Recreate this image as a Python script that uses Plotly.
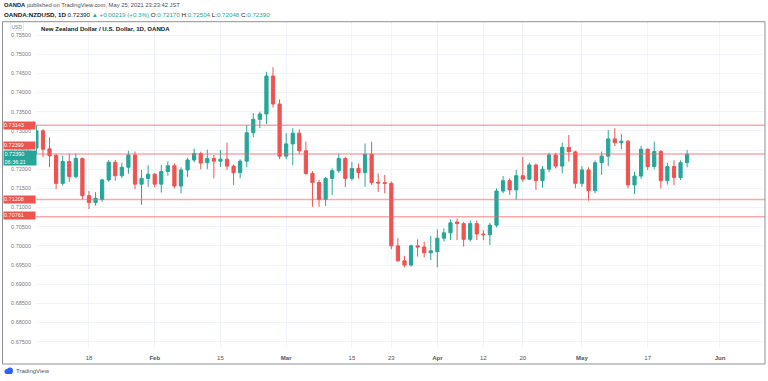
import plotly.graph_objects as go
import pandas as pd

# ---------------- data ----------------
dates = [d.strftime("%Y-%m-%d") for d in pd.bdate_range("2021-01-06", "2021-05-25")]

opens = [0.7255, 0.7300, 0.7253, 0.7236, 0.7163, 0.7220, 0.7181, 0.7228, 0.7131, 0.7113,
         0.7121, 0.7172, 0.7218, 0.7183, 0.7205, 0.7237, 0.7161, 0.7176, 0.7187, 0.7161,
         0.7194, 0.7209, 0.7156, 0.7198, 0.7224, 0.7241, 0.7217, 0.7228, 0.7221, 0.7226,
         0.7208, 0.7191, 0.7221, 0.7295, 0.7330, 0.7344, 0.7443, 0.7370, 0.7234, 0.7266,
         0.7294, 0.7248, 0.7189, 0.7165, 0.7121, 0.7176, 0.7196, 0.7228, 0.7176, 0.7202,
         0.7191, 0.7239, 0.7166, 0.7165, 0.7163, 0.7000, 0.6961, 0.6950, 0.7000, 0.6997,
         0.6982, 0.6985, 0.7020, 0.7034, 0.7062, 0.7058, 0.7017, 0.7058, 0.7031, 0.7029,
         0.7054, 0.7143, 0.7170, 0.7146, 0.7183, 0.7174, 0.7211, 0.7170, 0.7200, 0.7237,
         0.7208, 0.7257, 0.7245, 0.7163, 0.7198, 0.7144, 0.7217, 0.7234, 0.7279, 0.7269,
         0.7273, 0.7159, 0.7182, 0.7252, 0.7207, 0.7246, 0.7170, 0.7207, 0.7178, 0.72170]
highs = [0.73143, 0.7304, 0.7283, 0.7240, 0.7235, 0.7240, 0.7241, 0.7230, 0.7143, 0.7140,
         0.7175, 0.7224, 0.7224, 0.7217, 0.7248, 0.7246, 0.7198, 0.7210, 0.7190, 0.7211,
         0.7220, 0.7215, 0.7205, 0.7230, 0.7254, 0.7245, 0.7251, 0.7237, 0.7250, 0.7269,
         0.7212, 0.7226, 0.7315, 0.7346, 0.7350, 0.7454, 0.7466, 0.7382, 0.7294, 0.7307,
         0.7304, 0.7272, 0.7195, 0.7172, 0.7180, 0.7202, 0.7241, 0.7232, 0.7219, 0.7215,
         0.7267, 0.7272, 0.7189, 0.7185, 0.7168, 0.7020, 0.6974, 0.7003, 0.7017, 0.7011,
         0.7026, 0.7043, 0.7046, 0.7069, 0.7071, 0.7062, 0.7066, 0.7066, 0.7041, 0.7060,
         0.7150, 0.7182, 0.7176, 0.7198, 0.7232, 0.7217, 0.7215, 0.7208, 0.7243, 0.7243,
         0.7269, 0.7289, 0.7248, 0.7208, 0.7205, 0.7223, 0.7246, 0.7302, 0.7307, 0.7291,
         0.7276, 0.7193, 0.7261, 0.7254, 0.7272, 0.7250, 0.7217, 0.7223, 0.7223, 0.72504]
lows = [0.7238, 0.7232, 0.7205, 0.7148, 0.7157, 0.7167, 0.7176, 0.71208, 0.7096, 0.7105,
        0.7115, 0.7167, 0.7170, 0.7177, 0.7188, 0.7148, 0.7107, 0.7154, 0.7153, 0.7139,
        0.7183, 0.7150, 0.7137, 0.7180, 0.7218, 0.7200, 0.7200, 0.7176, 0.7206, 0.7198,
        0.7159, 0.7176, 0.7205, 0.7283, 0.7307, 0.7318, 0.7361, 0.7226, 0.7226, 0.7211,
        0.7240, 0.7185, 0.7102, 0.7102, 0.7104, 0.7133, 0.7190, 0.7153, 0.7170, 0.7176,
        0.7154, 0.7159, 0.7141, 0.7137, 0.6991, 0.6959, 0.6944, 0.6946, 0.6972, 0.6970,
        0.6963, 0.6944, 0.7011, 0.7015, 0.7015, 0.6998, 0.7011, 0.7015, 0.7015, 0.7002,
        0.7048, 0.7137, 0.7133, 0.7121, 0.7167, 0.7172, 0.7146, 0.7152, 0.7192, 0.7202,
        0.7189, 0.7220, 0.7150, 0.7154, 0.7118, 0.7137, 0.7185, 0.7208, 0.7260, 0.7252,
        0.7150, 0.7135, 0.7175, 0.7198, 0.7200, 0.7150, 0.7160, 0.7159, 0.7172, 0.72048]
closes = [0.7300, 0.7252, 0.7235, 0.7163, 0.7220, 0.7181, 0.7228, 0.7131, 0.7113, 0.7124,
          0.7172, 0.7218, 0.7183, 0.7205, 0.7237, 0.7161, 0.7176, 0.7187, 0.7161, 0.7194,
          0.7209, 0.7156, 0.7198, 0.7224, 0.7241, 0.7216, 0.7228, 0.7221, 0.7226, 0.7208,
          0.7191, 0.7221, 0.7295, 0.7330, 0.7344, 0.7443, 0.7370, 0.7234, 0.7266, 0.7294,
          0.7248, 0.7189, 0.7165, 0.7121, 0.7176, 0.7196, 0.7228, 0.7176, 0.7202, 0.7191,
          0.7239, 0.7165, 0.7164, 0.7163, 0.7000, 0.6961, 0.6950, 0.7000, 0.6997, 0.6982,
          0.6987, 0.7020, 0.7034, 0.7060, 0.7058, 0.7017, 0.7058, 0.7031, 0.7029, 0.7054,
          0.7143, 0.7170, 0.7146, 0.7183, 0.7174, 0.7211, 0.7170, 0.7200, 0.7237, 0.7208,
          0.7257, 0.7246, 0.7163, 0.7198, 0.7144, 0.7217, 0.7234, 0.7279, 0.7269, 0.7273,
          0.7159, 0.7182, 0.7252, 0.7207, 0.7246, 0.7170, 0.7207, 0.7178, 0.7217, 0.72390]

tick_dates = ["2021-01-18", "2021-02-01", "2021-02-15", "2021-03-01", "2021-03-15", "2021-03-23",
              "2021-04-01", "2021-04-12", "2021-04-20", "2021-05-03", "2021-05-17", "2021-06-01"]
tick_labels = ["18", "<b>Feb</b>", "15", "<b>Mar</b>", "15", "23", "<b>Apr</b>", "12", "20",
               "<b>May</b>", "17", "<b>Jun</b>"]
price_ticks = [0.675, 0.680, 0.685, 0.690, 0.695, 0.700, 0.705, 0.710, 0.715, 0.720, 0.725,
               0.730, 0.735, 0.740, 0.745, 0.750, 0.755]
levels = [0.73143, 0.72399, 0.71208, 0.70761]
last_price = 0.72390
countdown = "06:36:21"

# ---------------- geometry helpers ----------------
W, H = 768, 381
PL, PR, PT, PB = 36, 765, 22, 348


def fx(px):
    return (px - PL) / (PR - PL)


def fy(py):
    return (PB - py) / (PB - PT)


GREEN = "#26a69a"
RED = "#ef5350"
FONT = "Liberation Sans, Arial, sans-serif"

# x-axis in category space (one slot per trading day)
all_cats = dates + [d.strftime("%Y-%m-%d") for d in pd.bdate_range("2021-05-26", "2021-06-15")]

fig = go.Figure()
fig.add_trace(go.Candlestick(
    x=dates, open=opens, high=highs, low=lows, close=closes,
    increasing=dict(line=dict(color=GREEN, width=1), fillcolor=GREEN),
    decreasing=dict(line=dict(color=RED, width=1), fillcolor=RED),
    whiskerwidth=0, showlegend=False, hoverinfo="skip",
))

shapes = []
for lv in levels:
    shapes.append(dict(type="line", xref="paper", yref="y", x0=0, x1=1, y0=lv, y1=lv,
                       line=dict(color="rgba(242,100,100,0.55)", width=1.5), layer="above"))
# frame
shapes.append(dict(type="rect", xref="paper", yref="paper", x0=fx(2.5), x1=fx(765),
                   y0=fy(364), y1=fy(21.7), line=dict(color="#8f9196", width=1), layer="above"))
# TradingView logo (small cloud)
shapes.append(dict(type="circle", xref="paper", yref="paper", x0=fx(4.5), x1=fx(9.5),
                   y0=fy(374), y1=fy(369), fillcolor="#2962ff", line=dict(width=0)))
shapes.append(dict(type="circle", xref="paper", yref="paper", x0=fx(7), x1=fx(13),
                   y0=fy(374), y1=fy(367.5), fillcolor="#2962ff", line=dict(width=0)))
shapes.append(dict(type="rect", xref="paper", yref="paper", x0=fx(6.5), x1=fx(12),
                   y0=fy(374), y1=fy(371.5), fillcolor="#2962ff", line=dict(width=0)))

ann = []
ann.append(dict(xref="paper", yref="paper", x=fx(2), y=fy(5), xanchor="left", yanchor="middle",
                showarrow=False, font=dict(size=5.8, color="#4a4d57", family=FONT),
                text="<b style='color:#131722'>OANDA</b> published on TradingView.com, May 25, 2021 23:23:42 JST"))
ann.append(dict(xref="paper", yref="paper", x=fx(2), y=fy(14.5), xanchor="left", yanchor="middle",
                showarrow=False, font=dict(size=6.2, color="#131722", family=FONT),
                text=("<b>OANDA:NZDUSD, 1D</b> 0.72390 <span style='color:%s'>▲</span> "
                      "<span style='color:%s'>+0.00219 (+0.3%%)</span> "
                      "O:<span style='color:%s'>0.72170</span> H:<span style='color:%s'>0.72504</span> "
                      "L:<span style='color:%s'>0.72048</span> C:<span style='color:%s'>0.72390</span>")
                % (GREEN, GREEN, GREEN, GREEN, GREEN, GREEN)))
ann.append(dict(xref="paper", yref="paper", x=fx(39), y=fy(28.5), xanchor="left", yanchor="middle",
                showarrow=False, font=dict(size=6.1, color="#131722", family=FONT),
                text="<b>New Zealand Dollar / U.S. Dollar, 1D, OANDA</b>"))
ann.append(dict(xref="paper", yref="paper", x=fx(17), y=fy(26.5), xanchor="center", yanchor="middle",
                showarrow=False, font=dict(size=5, color="#787b86", family=FONT), text="USD",
                bordercolor="#d1d4dc", borderwidth=0.5, borderpad=1))
ann.append(dict(xref="paper", yref="paper", x=fx(14), y=fy(371), xanchor="left", yanchor="middle",
                showarrow=False, font=dict(size=6, color="#50535e", family=FONT), text="TradingView"))

# price-scale labels for the drawn levels
label_shift = {0.73143: 0, 0.72399: 8.5, 0.71208: 0, 0.70761: 1}
for lv in levels:
    ann.append(dict(xref="paper", yref="y", x=fx(3), y=lv, xanchor="left", yanchor="middle",
                    yshift=label_shift[lv], showarrow=False, bgcolor=RED, borderpad=0,
                    width=31, height=6.5, align="left", font=dict(size=5.5, color="white", family=FONT),
                    text="%.5f" % lv))
ann.append(dict(xref="paper", yref="y", x=fx(3), y=last_price, xanchor="left", yanchor="top",
                yshift=4, showarrow=False, bgcolor=GREEN, borderpad=0.5, width=31, height=13,
                align="left", font=dict(size=5.5, color="white", family=FONT),
                text="%.5f<br>%s" % (last_price, countdown)))

fig.update_layout(
    width=W, height=H,
    margin=dict(l=PL, r=W - PR, t=PT, b=H - PB, pad=0),
    paper_bgcolor="white", plot_bgcolor="white",
    font=dict(family=FONT, size=6, color="#50535e"),
    shapes=shapes, annotations=ann,
    xaxis=dict(type="category", categoryorder="array", categoryarray=all_cats,
               range=[-0.06, 110.85], rangeslider=dict(visible=False),
               tickmode="array", tickvals=tick_dates, ticktext=tick_labels,
               showgrid=True, gridcolor="#f0f3fa", gridwidth=1, zeroline=False,
               showline=False, ticks="", ticklabelstandoff=5,
               tickfont=dict(size=6, color="#50535e")),
    yaxis=dict(range=[0.67336, 0.75839], tickmode="array", tickvals=price_ticks,
               ticktext=["%.5f" % v for v in price_ticks],
               showgrid=True, gridcolor="#f0f3fa", gridwidth=1, zeroline=False,
               showline=False, ticks="", ticklabelstandoff=4,
               tickfont=dict(size=5.5, color="#787b86")),
    hovermode=False,
)

fig.write_html("out.html", config={"displayModeBar": False},
               post_script="document.body.style.margin='0';document.body.style.overflow='hidden';")
